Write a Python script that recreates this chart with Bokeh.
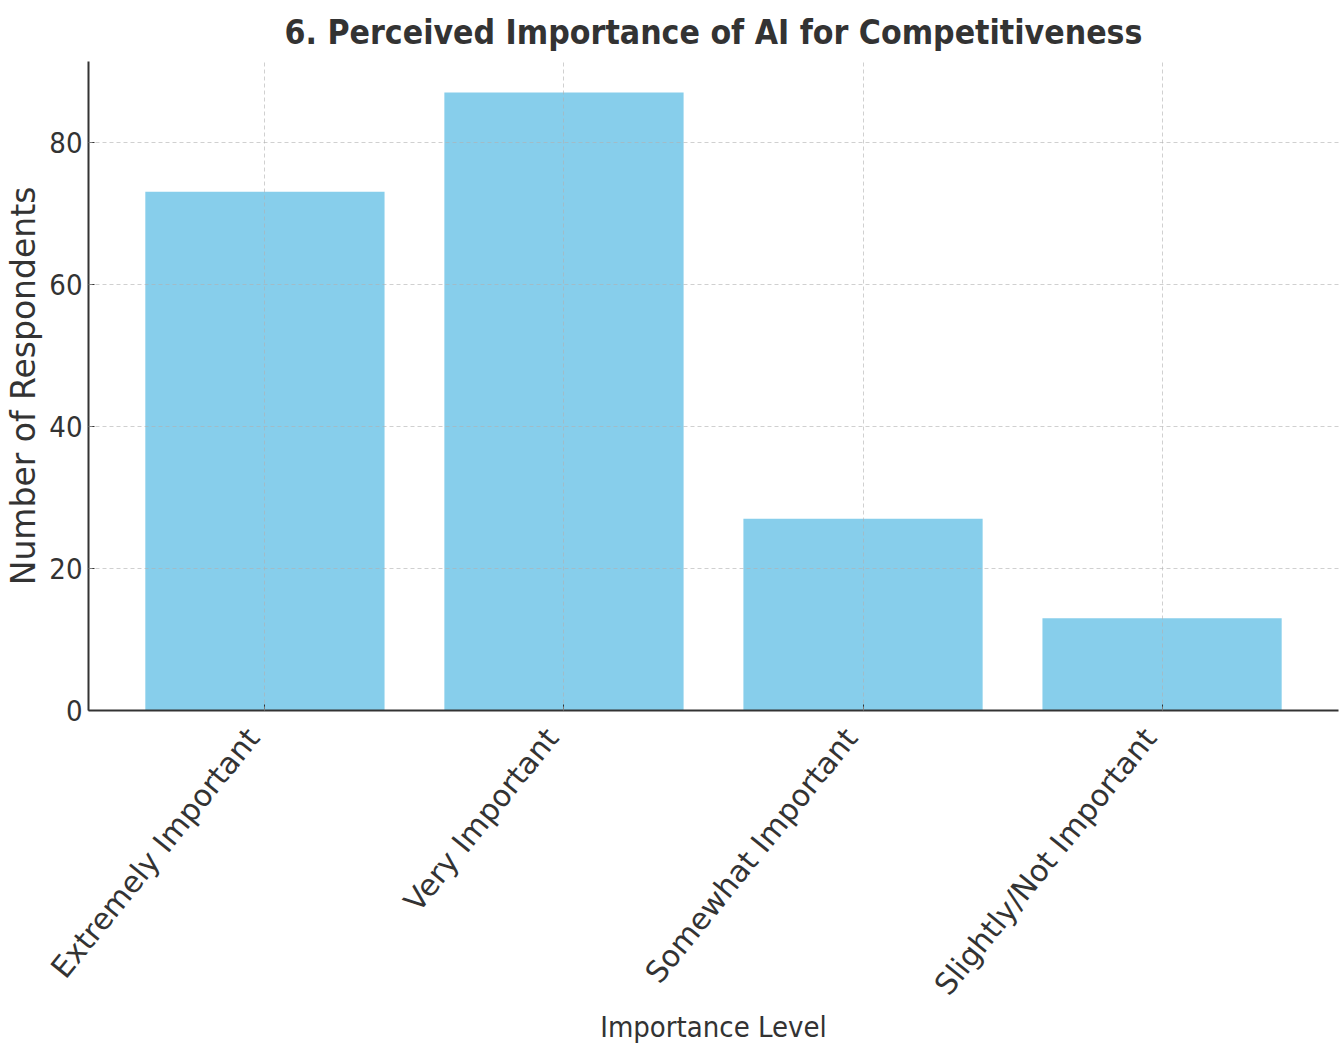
from bokeh.plotting import figure
from bokeh.models import Range1d, FixedTicker, ColumnDataSource
from bokeh.embed import file_html
from bokeh.resources import INLINE

categories = ["Extremely Important", "Very Important", "Somewhat Important", "Slightly/Not Important"]
respondents = [73, 87, 27, 13]
y_ticks = [0, 20, 40, 60, 80]

positions = list(range(len(categories)))
source = ColumnDataSource(dict(x=positions, top=respondents))

COND = "'DejaVu Sans Condensed', 'DejaVu Sans', sans-serif"
TEXT = "#333333"
PAD = "\u00a0\u00a0"

p = figure(width=1340, height=1046, output_backend="svg", toolbar_location=None,
           x_range=Range1d(-0.59, len(categories) - 1 + 0.59),
           y_range=Range1d(0, max(respondents) * 1.05),
           min_border_left=88, min_border_right=2, min_border_top=60, min_border_bottom=336)

p.vbar(x="x", top="top", width=0.8, bottom=0, source=source, color="#87CEEB", line_color=None)

p.title.text = "6. Perceived Importance of AI for Competitiveness"
p.title.align = "center"
p.title.text_font = COND
p.title.text_font_size = "33.5px"
p.title.text_font_style = "bold"
p.title.text_color = TEXT
p.title.offset = 3
p.title.standoff = 20

p.outline_line_color = None

p.xaxis.ticker = FixedTicker(ticks=positions)
p.xaxis.major_label_overrides = {i: c + PAD for i, c in enumerate(categories)}
p.xaxis.major_label_orientation = 0.89
p.xaxis.major_label_text_font = "DejaVu Sans"
p.xaxis.major_label_text_font_size = "30px"
p.xaxis.major_label_standoff = 7
p.xaxis.axis_label = "Importance Level"
p.xaxis.axis_label_text_font = COND
p.xaxis.axis_label_text_font_size = "29px"
p.xaxis.axis_label_text_font_style = "normal"
p.xaxis.axis_label_standoff = -6

p.yaxis.ticker = FixedTicker(ticks=y_ticks)
p.yaxis.axis_label = "Number of Respondents"
p.yaxis.axis_label_text_font = "DejaVu Sans"
p.yaxis.axis_label_text_font_size = "33px"
p.yaxis.axis_label_text_font_style = "normal"
p.yaxis.axis_label_standoff = 3
p.yaxis.major_label_text_font = COND
p.yaxis.major_label_text_font_size = "29px"
p.yaxis.major_label_standoff = 6

for ax in (p.xaxis, p.yaxis):
    ax.axis_line_color = TEXT
    ax.axis_line_width = 2
    ax.major_tick_line_color = TEXT
    ax.major_tick_in = 6
    ax.major_tick_out = 0
    ax.minor_tick_line_color = None
    ax.major_label_text_color = TEXT
    ax.axis_label_text_color = TEXT

for g in (p.xgrid, p.ygrid):
    g.grid_line_color = "#b0b0b0"
    g.grid_line_alpha = 0.6
    g.grid_line_dash = "4 3"
    g.level = "overlay"

open("out.html", "w").write(file_html(p, INLINE))
